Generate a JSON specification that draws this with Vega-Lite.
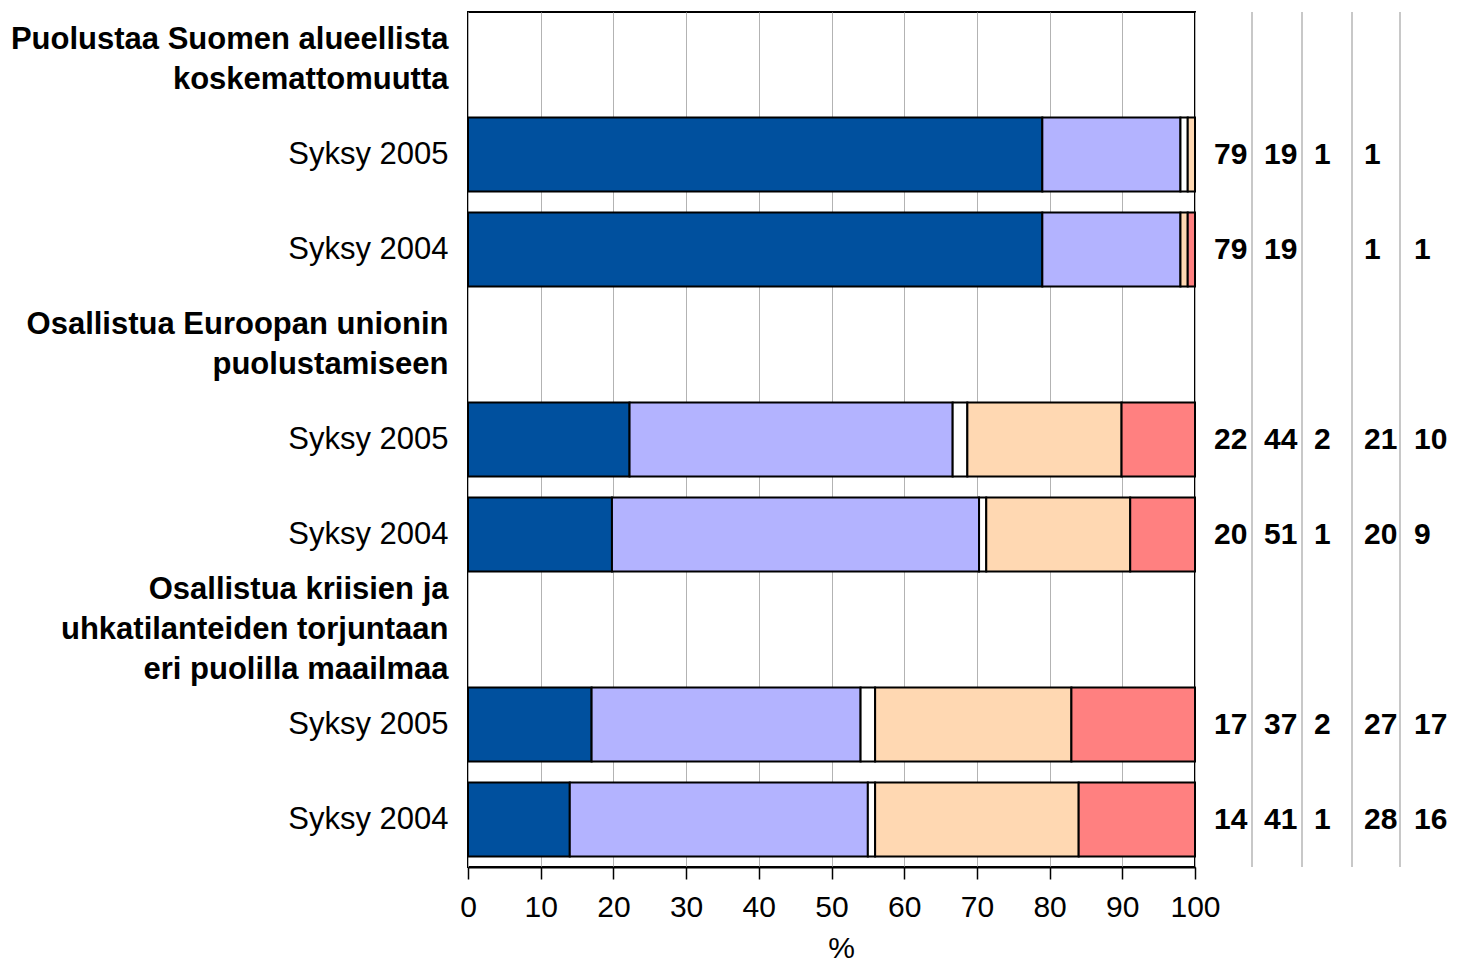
{
  "$schema": "https://vega.github.io/schema/vega-lite/v6.json",
  "padding": {"left": 9, "top": 11, "right": 0, "bottom": 0},
  "background": "white",
  "config": {"font": "Liberation Sans"},
  "bounds": "flush",
  "spacing": 0,
  "datasets": {
    "bars": [
      {"row": "A1|Syksy 2005", "cat": 1, "value": 79},
      {"row": "A1|Syksy 2005", "cat": 2, "value": 19},
      {"row": "A1|Syksy 2005", "cat": 3, "value": 1},
      {"row": "A1|Syksy 2005", "cat": 4, "value": 1},
      {"row": "A2|Syksy 2004", "cat": 1, "value": 79},
      {"row": "A2|Syksy 2004", "cat": 2, "value": 19},
      {"row": "A2|Syksy 2004", "cat": 4, "value": 1},
      {"row": "A2|Syksy 2004", "cat": 5, "value": 1},
      {"row": "B1|Syksy 2005", "cat": 1, "value": 22},
      {"row": "B1|Syksy 2005", "cat": 2, "value": 44},
      {"row": "B1|Syksy 2005", "cat": 3, "value": 2},
      {"row": "B1|Syksy 2005", "cat": 4, "value": 21},
      {"row": "B1|Syksy 2005", "cat": 5, "value": 10},
      {"row": "B2|Syksy 2004", "cat": 1, "value": 20},
      {"row": "B2|Syksy 2004", "cat": 2, "value": 51},
      {"row": "B2|Syksy 2004", "cat": 3, "value": 1},
      {"row": "B2|Syksy 2004", "cat": 4, "value": 20},
      {"row": "B2|Syksy 2004", "cat": 5, "value": 9},
      {"row": "C1|Syksy 2005", "cat": 1, "value": 17},
      {"row": "C1|Syksy 2005", "cat": 2, "value": 37},
      {"row": "C1|Syksy 2005", "cat": 3, "value": 2},
      {"row": "C1|Syksy 2005", "cat": 4, "value": 27},
      {"row": "C1|Syksy 2005", "cat": 5, "value": 17},
      {"row": "C2|Syksy 2004", "cat": 1, "value": 14},
      {"row": "C2|Syksy 2004", "cat": 2, "value": 41},
      {"row": "C2|Syksy 2004", "cat": 3, "value": 1},
      {"row": "C2|Syksy 2004", "cat": 4, "value": 28},
      {"row": "C2|Syksy 2004", "cat": 5, "value": 16}
    ],
    "seps": [{"pos": 1.76}, {"pos": 2.76}, {"pos": 3.76}, {"pos": 4.72}]
  },
  "hconcat": [
    {
      "width": 727,
      "height": 855,
      "data": {"name": "bars"},
      "view": {"stroke": "#000", "strokeWidth": 2},
      "mark": {"type": "bar", "stroke": "#000", "strokeWidth": 2},
      "encoding": {
        "y": {
          "field": "row",
          "type": "nominal",
          "scale": {
            "domain": [
              "H1|Puolustaa Suomen alueellista|koskemattomuutta",
              "A1|Syksy 2005",
              "A2|Syksy 2004",
              "H2|Osallistua Euroopan unionin|puolustamiseen",
              "B1|Syksy 2005",
              "B2|Syksy 2004",
              "H3|Osallistua kriisien ja|uhkatilanteiden torjuntaan|eri puolilla maailmaa",
              "C1|Syksy 2005",
              "C2|Syksy 2004"
            ],
            "paddingInner": 0.22,
            "paddingOuter": 0.11
          },
          "axis": {
            "title": null,
            "ticks": false,
            "domain": false,
            "grid": false,
            "labelExpr": "slice(split(datum.value,'|'),1)",
            "labelFontSize": 31,
            "labelColor": "#000",
            "labelLimit": 0,
            "labelPadding": 20,
            "labelLineHeight": 40,
            "labelOffset": {"condition": [{"test": "indexof(datum.value,'H3')===0", "value": -40}, {"test": "indexof(datum.value,'H')===0", "value": -20}], "value": 0},
            "labelFontWeight": {"condition": {"test": "indexof(datum.value,'H')===0", "value": "bold"}, "value": "normal"}
          }
        },
        "x": {
          "field": "value",
          "type": "quantitative",
          "stack": "normalize",
          "scale": {"domain": [0, 1], "nice": false},
          "axis": {
            "values": [0, 0.1, 0.2, 0.3, 0.4, 0.5, 0.6, 0.7, 0.8, 0.9, 1],
            "labelExpr": "format(datum.value*100,'d')",
            "grid": true,
            "gridColor": "#b3b3b3",
            "gridWidth": 1,
            "domainColor": "#000",
            "domainWidth": 2,
            "tickColor": "#000",
            "tickWidth": 1.5,
            "tickSize": 12,
            "labelFontSize": 30,
            "labelColor": "#000",
            "labelPadding": 13,
            "labelFlush": false,
            "labelOverlap": false,
            "title": "%",
            "titleFontSize": 30,
            "titleFontWeight": "normal",
            "titleColor": "#000",
            "titlePadding": 11,
            "titleX": 373
          }
        },
        "color": {
          "field": "cat",
          "type": "nominal",
          "scale": {"domain": [1, 2, 3, 4, 5], "range": ["#00509e", "#b3b3ff", "#ffffff", "#ffd8b2", "#ff8080"]},
          "legend": null
        },
        "order": {"field": "cat", "type": "quantitative"}
      }
    },
    {
      "width": 260,
      "height": 855,
      "view": {"stroke": null},
      "layer": [
        {
          "data": {"name": "seps"},
          "mark": {"type": "rule", "color": "#c8c8c8", "strokeWidth": 2},
          "encoding": {
            "x": {"field": "pos", "type": "quantitative", "scale": {"domain": [0.62, 5.82], "nice": false, "zero": false}, "axis": null}
          }
        },
        {
          "data": {"name": "bars"},
          "mark": {"type": "text", "align": "left", "baseline": "middle", "fontSize": 30, "fontWeight": "bold", "color": "#000"},
          "encoding": {
            "x": {"field": "cat", "type": "quantitative", "scale": {"domain": [0.62, 5.82], "nice": false, "zero": false}, "axis": null},
            "y": {
              "field": "row",
              "type": "nominal",
              "scale": {
                "domain": [
                  "H1|Puolustaa Suomen alueellista|koskemattomuutta",
                  "A1|Syksy 2005",
                  "A2|Syksy 2004",
                  "H2|Osallistua Euroopan unionin|puolustamiseen",
                  "B1|Syksy 2005",
                  "B2|Syksy 2004",
                  "H3|Osallistua kriisien ja|uhkatilanteiden torjuntaan|eri puolilla maailmaa",
                  "C1|Syksy 2005",
                  "C2|Syksy 2004"
                ],
                "paddingInner": 0.22,
                "paddingOuter": 0.11
              },
              "axis": null
            },
            "text": {"field": "value", "type": "quantitative"}
          }
        }
      ]
    }
  ]
}
